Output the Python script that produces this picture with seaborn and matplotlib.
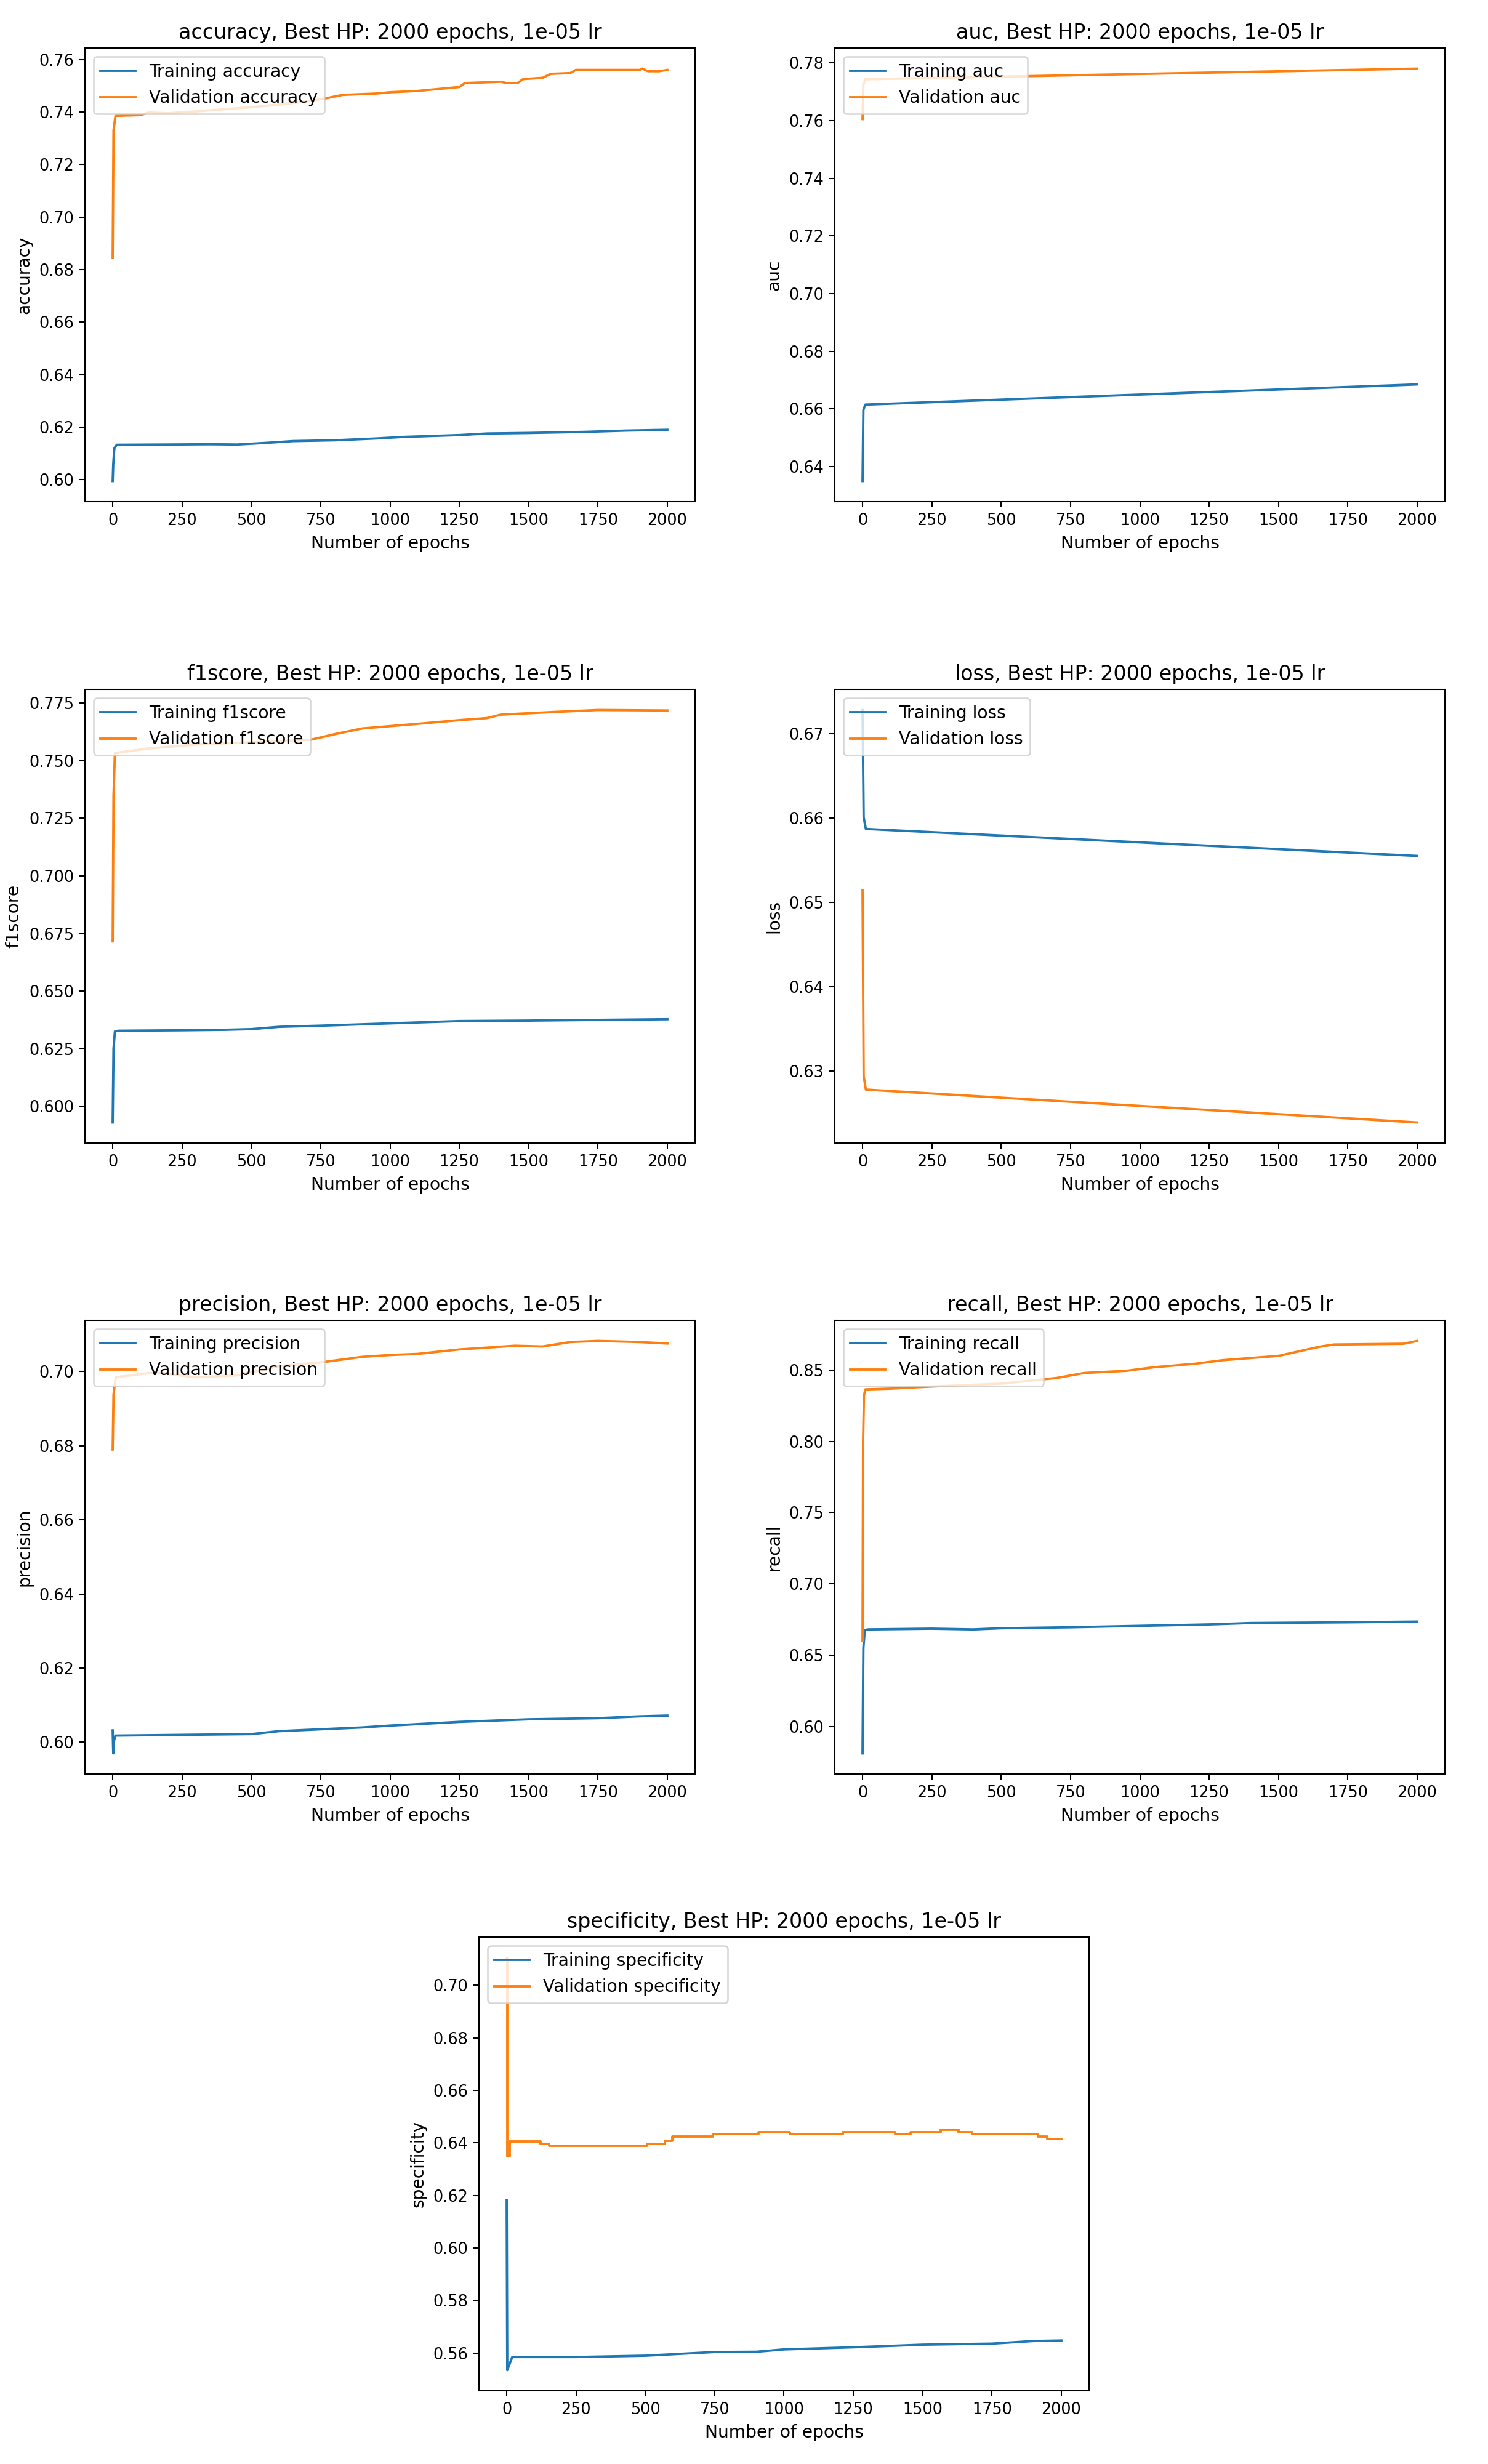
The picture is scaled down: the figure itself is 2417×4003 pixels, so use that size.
import numpy as np
import pandas as pd
import seaborn as sns
import matplotlib.pyplot as plt

title_tail = ", Best HP: 2000 epochs, 1e-05 lr"

# accuracy
acc_train_ep = [0, 2, 6, 15, 200, 350, 450, 550, 650, 800, 950, 1050, 1250, 1350, 1500, 1700, 1850, 2000]
acc_train = [0.5995, 0.606, 0.612, 0.6133, 0.6134, 0.6135, 0.6134, 0.614, 0.6147, 0.615, 0.6157, 0.6163,
             0.617, 0.6176, 0.6178, 0.6182, 0.6187, 0.619]
acc_val_ep = [0, 3, 10, 100, 130, 200, 300, 400, 500, 600, 700, 760, 830, 950, 1000, 1100, 1200, 1250,
              1270, 1400, 1420, 1460, 1480, 1550, 1580, 1650, 1670, 1900, 1910, 1930, 1970, 2000]
acc_val = [0.6845, 0.733, 0.7385, 0.7388, 0.7398, 0.7395, 0.7402, 0.741, 0.7418, 0.7428, 0.744, 0.745,
           0.7465, 0.747, 0.7475, 0.748, 0.749, 0.7495, 0.751, 0.7515, 0.751, 0.751, 0.7525, 0.753,
           0.7545, 0.7548, 0.756, 0.756, 0.7565, 0.7555, 0.7555, 0.756]

# auc
auc_train_ep = [0, 3, 10, 2000]
auc_train = [0.635, 0.6597, 0.6615, 0.6685]
auc_val_ep = [0, 3, 10, 2000]
auc_val = [0.7605, 0.7725, 0.7743, 0.778]

# f1score
f1_train_ep = [0, 3, 8, 20, 250, 400, 500, 600, 750, 1000, 1250, 1500, 1750, 2000]
f1_train = [0.593, 0.625, 0.6325, 0.6328, 0.633, 0.6332, 0.6335, 0.6345, 0.635, 0.636, 0.637, 0.6372,
            0.6375, 0.6378]
f1_val_ep = [0, 3, 8, 130, 300, 500, 711, 800, 900, 1000, 1100, 1250, 1350, 1400, 1600, 1750, 2000]
f1_val = [0.6716, 0.735, 0.7533, 0.7553, 0.757, 0.758, 0.759, 0.7615, 0.764, 0.765, 0.766, 0.7676,
          0.7685, 0.770, 0.7712, 0.772, 0.7718]

# loss
loss_train_ep = [0, 4, 12, 2000]
loss_train = [0.6728, 0.6601, 0.6587, 0.6555]
loss_val_ep = [0, 4, 12, 2000]
loss_val = [0.6514, 0.6294, 0.6278, 0.6239]

# precision
prec_train_ep = [0, 2, 5, 10, 250, 500, 600, 750, 900, 1000, 1250, 1500, 1750, 1900, 2000]
prec_train = [0.6032, 0.597, 0.6005, 0.6018, 0.602, 0.6022, 0.603, 0.6035, 0.604, 0.6045, 0.6055,
              0.6062, 0.6065, 0.607, 0.6072]
prec_val_ep = [0, 3, 6, 11, 150, 300, 450, 600, 750, 900, 1000, 1100, 1250, 1450, 1550, 1650, 1750,
               1900, 2000]
prec_val = [0.679, 0.6939, 0.6955, 0.6985, 0.6998, 0.6985, 0.699, 0.7015, 0.7025, 0.704, 0.7045,
            0.7048, 0.706, 0.707, 0.7068, 0.708, 0.7083, 0.708, 0.7076]

# recall
rec_train_ep = [0, 3, 8, 20, 250, 400, 500, 750, 1000, 1250, 1400, 1750, 2000]
rec_train = [0.581, 0.655, 0.6675, 0.668, 0.6685, 0.668, 0.6688, 0.6695, 0.6705, 0.6715, 0.6725,
             0.673, 0.6735]
rec_val_ep = [0, 2, 5, 10, 100, 250, 500, 600, 700, 800, 950, 1050, 1200, 1300, 1400, 1500, 1650,
              1700, 1950, 2000]
rec_val = [0.66, 0.80, 0.832, 0.8365, 0.837, 0.8385, 0.8405, 0.8425, 0.8445, 0.848, 0.8495, 0.852,
           0.8545, 0.857, 0.8585, 0.86, 0.8665, 0.868, 0.8685, 0.8705]

# specificity
spec_train_ep = [0, 2, 20, 250, 500, 750, 900, 1000, 1250, 1500, 1750, 1900, 2000]
spec_train = [0.6183, 0.5535, 0.5585, 0.5585, 0.559, 0.5604, 0.5605, 0.5614, 0.5622, 0.5632, 0.5636,
              0.5646, 0.5648]
spec_val_ep = [0, 2, 10, 123, 153, 505, 571, 596, 743, 907, 1022, 1211, 1400, 1457, 1564, 1629, 1678,
               1916, 1949, 2000]
spec_val = [0.7105, 0.635, 0.6405, 0.6397, 0.6389, 0.6397, 0.6408, 0.6424, 0.6433, 0.6441, 0.6433,
            0.6441, 0.6433, 0.6441, 0.645, 0.6441, 0.6433, 0.6424, 0.6415, 0.6415]

W, H = 2417, 4003
fig = plt.figure(figsize=(W / 184, H / 184), dpi=184)
fig.patch.set_facecolor("white")


def make_ax(left, top, w=991, h=737):
    return fig.add_axes([left / W, 1 - (top + h) / H, w / W, h / H])


def plot_metric(ax, name, tr_ep, tr, va_ep, va, val_steps=False):
    sns.lineplot(x=tr_ep, y=tr, ax=ax, color="C0", label=f"Training {name}",
                 estimator=None, sort=False)
    kw = {"drawstyle": "steps-post"} if val_steps else {}
    sns.lineplot(x=va_ep, y=va, ax=ax, color="C1", label=f"Validation {name}",
                 estimator=None, sort=False, **kw)
    ax.set_title(name + title_tail, fontsize=13)
    ax.set_xlabel("Number of epochs", fontsize=11)
    ax.set_ylabel(name, fontsize=11)
    ax.legend(loc="upper left", fontsize=11)


plot_metric(make_ax(138, 78), "accuracy", acc_train_ep, acc_train, acc_val_ep, acc_val)
plot_metric(make_ax(1356, 78), "auc", auc_train_ep, auc_train, auc_val_ep, auc_val)
plot_metric(make_ax(138, 1120), "f1score", f1_train_ep, f1_train, f1_val_ep, f1_val)
plot_metric(make_ax(1356, 1120), "loss", loss_train_ep, loss_train, loss_val_ep, loss_val)
plot_metric(make_ax(138, 2145), "precision", prec_train_ep, prec_train, prec_val_ep, prec_val)
plot_metric(make_ax(1356, 2145), "recall", rec_train_ep, rec_train, rec_val_ep, rec_val)
plot_metric(make_ax(778, 3147), "specificity", spec_train_ep, spec_train, spec_val_ep, spec_val,
            val_steps=True)

fig.savefig("out.png", dpi=184, facecolor="white")
